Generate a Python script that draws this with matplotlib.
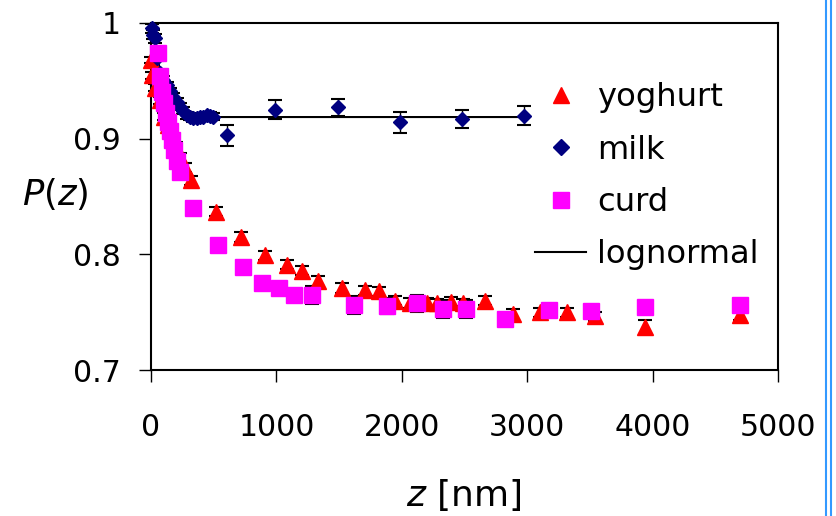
import numpy as np
import matplotlib
matplotlib.use("Agg")
import matplotlib.pyplot as plt
from matplotlib.lines import Line2D

# yoghurt (red triangles)
yog_z = [2, 10, 32, 72, 104, 135, 167, 199, 231, 271, 319, 518, 715, 911, 1087, 1203,
         1333, 1525, 1705, 1820, 1944, 2064, 2197, 2277, 2396, 2489, 2667, 2887, 3100,
         3318, 3538, 3936, 4699]
yog_p = [0.968, 0.955, 0.944, 0.933, 0.919, 0.912, 0.901, 0.893, 0.884, 0.875, 0.864,
         0.837, 0.815, 0.799, 0.791, 0.786, 0.777, 0.771, 0.769, 0.768, 0.760, 0.758,
         0.758, 0.7575, 0.759, 0.7575, 0.760, 0.748, 0.750, 0.750, 0.7465, 0.737, 0.7474]
yog_err = [0.003, 0.003, 0.003, 0.003, 0.003, 0.004, 0.004, 0.004, 0.004, 0.004, 0.004,
           0.004, 0.004, 0.004, 0.004, 0.004, 0.004, 0.004, 0.004, 0.004, 0.004, 0.004,
           0.004, 0.004, 0.004, 0.004, 0.004, 0.0045, 0.004, 0.004, 0.004, 0.006, 0.004]

# milk (navy diamonds)
milk_z = [6, 18, 32, 50, 72, 98, 125, 150, 178, 205, 231, 258, 284, 310, 337, 364, 390,
          417, 444, 470, 497, 605, 988, 1490, 1984, 2478, 2972]
milk_p = [0.9954, 0.990, 0.9868, 0.970, 0.9565, 0.951, 0.9464, 0.941, 0.9363, 0.932,
          0.9276, 0.924, 0.9204, 0.919, 0.9176, 0.918, 0.9184, 0.919, 0.9204, 0.920,
          0.9190, 0.903, 0.925, 0.927, 0.914, 0.917, 0.920]
milk_err = [0.004, 0.004, 0.004, 0.003, 0.003, 0.003, 0.003, 0.003, 0.003, 0.003, 0.003,
            0.003, 0.003, 0.003, 0.003, 0.003, 0.003, 0.003, 0.003, 0.003, 0.003,
            0.009, 0.008, 0.007, 0.009, 0.008, 0.008]

# curd (magenta squares)
curd_z = [52, 72, 88, 104, 120, 135, 151, 167, 183, 207, 231, 337, 534, 733, 884, 1017,
          1139, 1280, 1615, 1883, 2125, 2329, 2515, 2826, 3171, 3511, 3936, 4699]
curd_p = [0.974, 0.954, 0.940, 0.931, 0.922, 0.914, 0.907, 0.899, 0.890, 0.881, 0.871,
          0.840, 0.808, 0.789, 0.775, 0.771, 0.7647, 0.765, 0.756, 0.7555, 0.7575,
          0.7526, 0.7526, 0.7445, 0.7517, 0.751, 0.7546, 0.756]
curd_err = [0.003, 0.003, 0.003, 0.003, 0.003, 0.003, 0.003, 0.003, 0.003, 0.003, 0.003,
            0.003, 0.003, 0.003, 0.003, 0.003, 0.003, 0.008, 0.008, 0.007, 0.007,
            0.0075, 0.0075, 0.003, 0.003, 0.003, 0.003, 0.003]

# lognormal fit to milk
logn_z = [0, 20, 50, 100, 150, 200, 250, 300, 400, 500, 1000, 2000, 3000]
logn_p = [1.0, 0.99, 0.97, 0.947, 0.936, 0.929, 0.924, 0.921, 0.919, 0.9187, 0.9187,
          0.9187, 0.9187]

FS = 21.5
plt.rcParams['font.family'] = ['DejaVu Sans']
plt.rcParams['mathtext.fontset'] = 'dejavusans'

fig = plt.figure(figsize=(8.36, 5.16), dpi=100)
ax = fig.add_axes([151 / 836, 1 - 370 / 516, 627 / 836, 347 / 516])

ax.plot(logn_z, logn_p, color='black', lw=1.5, zorder=1)

ebkw = dict(fmt='none', ecolor='black', elinewidth=1.0, capsize=4.7, capthick=1.5,
            clip_on=False, zorder=2)
ax.errorbar(yog_z, yog_p, yerr=yog_err, **ebkw)
ax.errorbar(milk_z, milk_p, yerr=milk_err, **ebkw)
ax.errorbar(curd_z, curd_p, yerr=curd_err, **ebkw)

h_yog, = ax.plot(yog_z, yog_p, ls='none', marker='^', ms=11, color='#ff0000',
                 mec='#ff0000', clip_on=False, zorder=3)
h_milk, = ax.plot(milk_z, milk_p, ls='none', marker='D', ms=7.5, color='#000080',
                  mec='#000080', clip_on=False, zorder=4)
h_curd, = ax.plot(curd_z, curd_p, ls='none', marker='s', ms=11, color='#ff00ff',
                  mec='#ff00ff', clip_on=False, zorder=5)
h_logn = Line2D([], [], color='black', lw=1.5)

ax.set_xlim(0, 5000)
ax.set_ylim(0.7, 1.0)
ax.set_xticks([0, 1000, 2000, 3000, 4000, 5000])
ax.set_yticks([0.7, 0.8, 0.9, 1.0])
ax.set_yticklabels(['0.7', '0.8', '0.9', '1'])
ax.tick_params(axis='both', direction='out', length=8.6, width=1.0, labelsize=FS,
               colors='black')
ax.tick_params(axis='x', pad=22)
ax.tick_params(axis='y', pad=13)
for s in ax.spines.values():
    s.set_linewidth(1.5)
    s.set_color('black')

ax.legend([h_yog, h_milk, h_curd, h_logn], ['yoghurt', 'milk', 'curd', 'lognormal'],
          loc='upper left', bbox_to_anchor=(0.612, 0.829), frameon=False,
          fontsize=23.2, handlelength=1.6, handletextpad=0.34, labelspacing=0.66,
          borderpad=0, borderaxespad=0, markerscale=1.05)

fig.text(55 / 836, 1 - 194 / 516, r'$P$($z$)', fontsize=25.5, ha='center', va='center')
fig.text(464 / 836, 1 - 495 / 516, r'$z$ [nm]', fontsize=26, ha='center', va='center')

# slide border on the right edge
for xp in (825.5, 830.5):
    fig.add_artist(Line2D([xp / 836, xp / 836], [0, 1], color='#3399ff', lw=1.5))

fig.savefig('out.png', dpi=100)
